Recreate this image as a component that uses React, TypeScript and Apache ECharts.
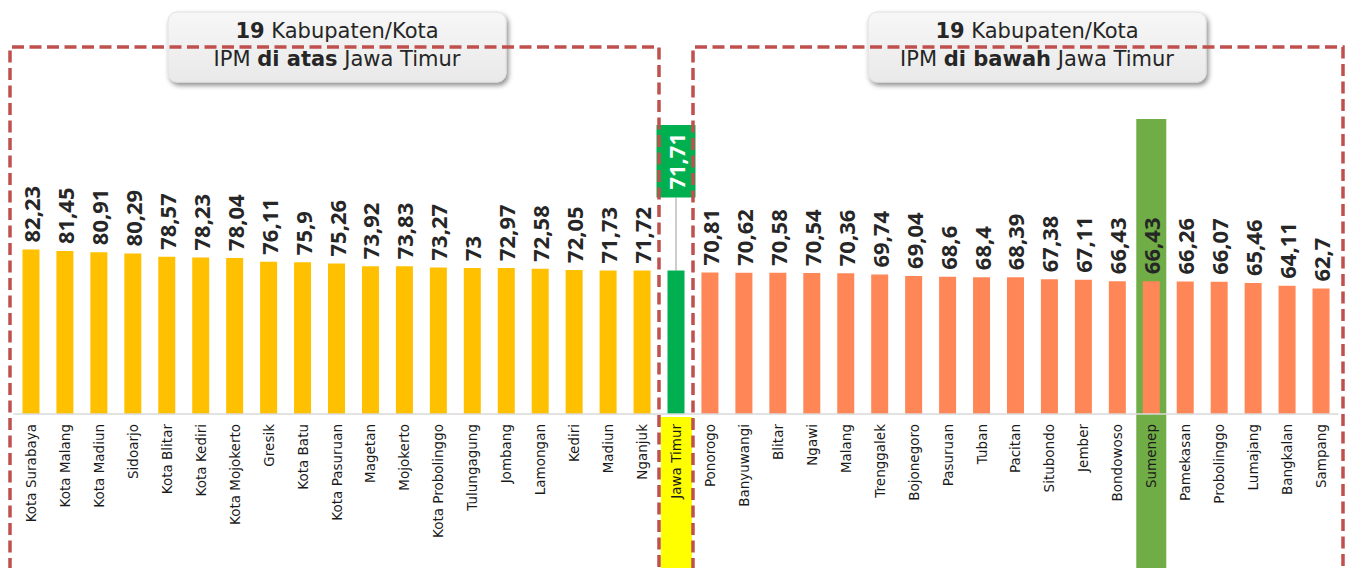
import React, { useEffect, useRef } from 'react';
import * as echarts from 'echarts';

const categories = [
  'Kota Surabaya', 'Kota Malang', 'Kota Madiun', 'Sidoarjo', 'Kota Blitar', 'Kota Kediri',
  'Kota Mojokerto', 'Gresik', 'Kota Batu', 'Kota Pasuruan', 'Magetan', 'Mojokerto',
  'Kota Probolinggo', 'Tulungagung', 'Jombang', 'Lamongan', 'Kediri', 'Madiun', 'Nganjuk',
  'Jawa Timur',
  'Ponorogo', 'Banyuwangi', 'Blitar', 'Ngawi', 'Malang', 'Trenggalek', 'Bojonegoro',
  'Pasuruan', 'Tuban', 'Pacitan', 'Situbondo', 'Jember', 'Bondowoso', 'Sumenep',
  'Pamekasan', 'Probolinggo', 'Lumajang', 'Bangkalan', 'Sampang',
];

const ipmValues = [
  82.23, 81.45, 80.91, 80.29, 78.57, 78.23, 78.04, 76.11, 75.9, 75.26, 73.92, 73.83,
  73.27, 73, 72.97, 72.58, 72.05, 71.73, 71.72,
  71.71,
  70.81, 70.62, 70.58, 70.54, 70.36, 69.74, 69.04, 68.6, 68.4, 68.39, 67.38, 67.11,
  66.43, 66.43, 66.26, 66.07, 65.46, 64.11, 62.7,
];

const provinceName = 'Jawa Timur';
const highlightedRegion = 'Sumenep';

const headerAbove = '{b|19} Kabupaten/Kota\nIPM {b|di atas} Jawa Timur';
const headerBelow = '{b|19} Kabupaten/Kota\nIPM {b|di bawah} Jawa Timur';

const GOLD = '#FFC000';
const ORANGE = '#FF8757';
const GREEN = '#00B050';
const COLUMN_GREEN = '#70AD47';
const DASH_RED = '#C0504D';
const PROVINCE_LABEL_GAP = 73;

const fmt = (v: number) => String(v).replace('.', ',');

function buildOption() {
  const provIdx = categories.indexOf(provinceName);
  const hlIdx = categories.indexOf(highlightedRegion);

  const barData = ipmValues.map((v, i) => {
    if (i === provIdx) {
      return {
        value: v,
        itemStyle: { color: GREEN },
        label: {
          distance: PROVINCE_LABEL_GAP,
          color: '#ffffff',
          backgroundColor: GREEN,
          padding: [9, 8, 8, 8],
          lineHeight: 22,
        },
      };
    }
    return { value: v, itemStyle: { color: i < provIdx ? GOLD : ORANGE } };
  });

  const highlightData = [
    [provIdx, ipmValues[provIdx], 0],
    [hlIdx, ipmValues[hlIdx], 1],
  ];

  const dashed = {
    stroke: DASH_RED,
    lineWidth: 3.5,
    lineDash: [12, 5.5],
    fill: null,
  };

  const headerBox = (x: number, text: string) => ({
    type: 'group',
    z: 20,
    children: [
      {
        type: 'rect',
        shape: { x, y: 12, width: 338, height: 70, r: 9 },
        style: {
          fill: new echarts.graphic.LinearGradient(0, 0, 0, 1, [
            { offset: 0, color: '#F7F7F7' },
            { offset: 1, color: '#E9E9E9' },
          ]),
          stroke: '#E0E0E0',
          lineWidth: 1,
          shadowBlur: 5,
          shadowOffsetX: 2,
          shadowOffsetY: 3,
          shadowColor: 'rgba(0,0,0,0.45)',
        },
      },
      {
        type: 'text',
        x: x + 169,
        y: 45,
        style: {
          text,
          align: 'center',
          verticalAlign: 'middle',
          fontFamily: 'DejaVu Sans',
          fontSize: 21,
          lineHeight: 28,
          fill: '#262626',
          rich: {
            b: { fontFamily: 'DejaVu Sans', fontSize: 21, fontWeight: 'bold', fill: '#262626', lineHeight: 28 },
          },
        },
      },
    ],
  });

  return {
    animation: false,
    backgroundColor: '#ffffff',
    grid: { left: 14, right: 14, top: 114, bottom: 154, containLabel: false },
    xAxis: {
      type: 'category',
      data: categories,
      z: 3,
      axisLine: { lineStyle: { color: '#D9D9D9', width: 1.5 } },
      axisTick: { show: false },
      axisLabel: {
        interval: 0,
        rotate: 90,
        margin: 10,
        fontFamily: 'DejaVu Sans',
        fontSize: 13.5,
        color: '#1a1a1a',
      },
    },
    yAxis: {
      type: 'value',
      min: 0,
      max: 150,
      show: false,
      splitLine: { show: false },
    },
    series: [
      {
        type: 'custom',
        z: 1,
        data: highlightData,
        encode: { x: 0, y: 1 },
        renderItem: (params: any, api: any) => {
          const idx = api.value(0);
          const val = api.value(1);
          const kind = api.value(2);
          const [cx, topY] = api.coord([idx, val]);
          const [, axisY] = api.coord([idx, 0]);
          const H = api.getHeight();
          const cs = params.coordSys;
          if (kind === 0) {
            return {
              type: 'group',
              children: [
                {
                  type: 'rect',
                  shape: { x: cx - 15, y: axisY + 3, width: 31, height: H - axisY - 3 },
                  style: { fill: '#FFFF00' },
                },
                {
                  type: 'line',
                  shape: { x1: cx, y1: topY, x2: cx, y2: topY - PROVINCE_LABEL_GAP },
                  style: { stroke: '#9A9A9A', lineWidth: 1 },
                },
              ],
            };
          }
          return {
            type: 'rect',
            shape: { x: cx - 15, y: cs.y + 5, width: 30, height: H - cs.y - 5 },
            style: { fill: COLUMN_GREEN },
          };
        },
      },
      {
        type: 'bar',
        z: 2,
        data: barData,
        barWidth: 17,
        label: {
          show: true,
          position: 'top',
          distance: 7,
          rotate: 90,
          align: 'left',
          verticalAlign: 'middle',
          fontFamily: 'Noto Sans',
          fontWeight: 'bold',
          fontSize: 22,
          color: '#262626',
          formatter: (p: any) => fmt(p.value),
        },
      },
    ],
    graphic: [
      {
        type: 'polyline',
        z: 10,
        shape: { points: [[10, 570], [10, 47], [659, 47], [659, 570]] },
        style: dashed,
      },
      {
        type: 'polyline',
        z: 10,
        shape: { points: [[693, 570], [693, 47], [1343, 47], [1343, 570]] },
        style: dashed,
      },
      headerBox(168, headerAbove),
      headerBox(868, headerBelow),
    ],
  };
}

export default function App() {
  const ref = useRef<HTMLDivElement>(null);
  useEffect(() => {
    document.body.style.margin = '0';
    const chart = echarts.init(ref.current as HTMLDivElement, null, { renderer: 'svg' });
    chart.setOption(buildOption() as any);
    return () => chart.dispose();
  }, []);
  return <div ref={ref} style={{ width: 1352, height: 568 }} />;
}
